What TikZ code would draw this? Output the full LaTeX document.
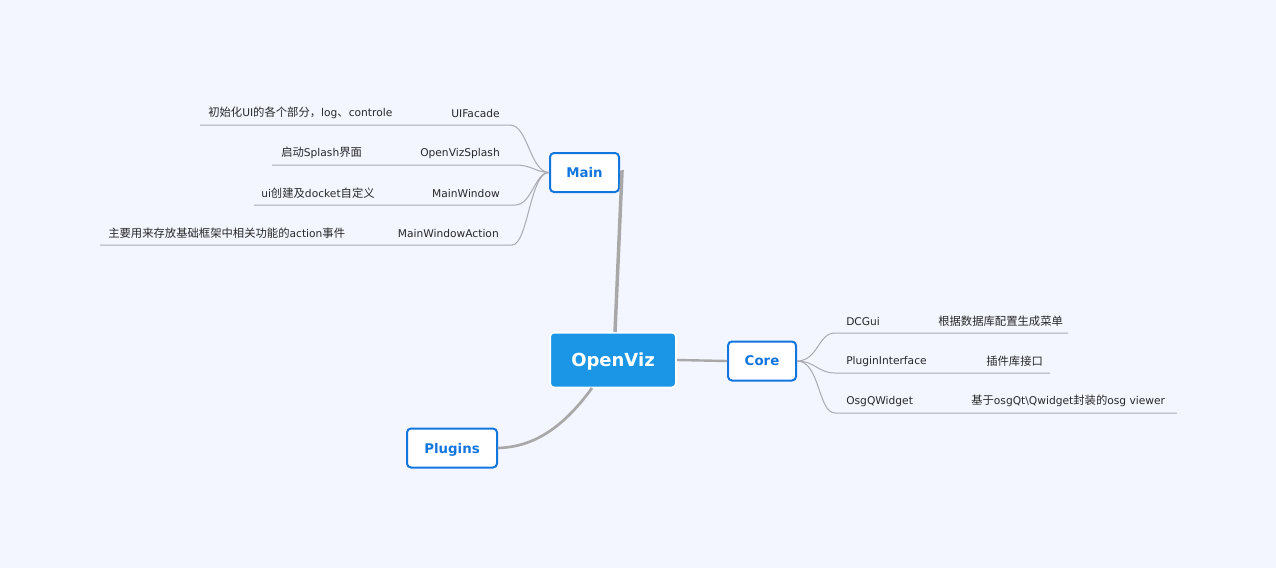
\documentclass[tikz,border=0pt]{standalone}
\usepackage{fontspec}
\setmainfont{DejaVu Sans}
\newfontfamily\cjk{Noto Sans CJK SC}
\newcommand{\zhs}[1]{{\fontsize{8.5}{10}\selectfont\cjk #1}}
\definecolor{bg}{RGB}{243,246,254}
\definecolor{boxblue}{RGB}{18,118,222}
\definecolor{rootfill}{RGB}{27,150,230}
\definecolor{linegray}{RGB}{168,168,168}
\definecolor{thingray}{RGB}{170,170,176}
\definecolor{txt}{RGB}{40,40,40}
\begin{document}
\begin{tikzpicture}[x=0.75pt,y=-0.75pt,
  root/.style={draw=white,line width=1.5pt,fill=rootfill,rounded corners=3pt,text=white,font=\fontsize{13.5}{16}\selectfont\bfseries,minimum width=126*0.75pt,minimum height=55*0.75pt,inner sep=0pt,text depth=0pt},
  topic/.style={draw=boxblue,line width=1.5pt,fill=white,rounded corners=3pt,text=boxblue,font=\fontsize{10}{12}\selectfont\bfseries,minimum height=39*0.75pt,inner sep=0pt,text depth=0pt},
  lbl/.style={inner sep=0pt,text=txt,font=\fontsize{8}{10}\selectfont},
  clbl/.style={inner sep=0pt,text=txt,font=\fontsize{8}{10}\selectfont},
  thin/.style={draw=thingray,line width=0.75pt},
  thick/.style={draw=linegray,line width=2.2pt}]
\fill[bg] (0,0) rectangle (1276,568);
\useasboundingbox (0,0) rectangle (1276,568);

% main nodes
\node[root] (openviz) at (613,360) {OpenViz};
\node[topic,minimum width=69*0.75pt] (main) at (584.5,172.5) {Main};
\node[topic,minimum width=68*0.75pt] (core) at (762,361) {Core};
\node[topic,minimum width=90*0.75pt] (plugins) at (452,448) {Plugins};

% root connectors
\coordinate (mtop) at (615,332);
\coordinate (mbend) at (622,172);
\draw[thick,line width=2.6pt] (mtop) -- (mbend) -- (main.east);
\draw[thick,line width=1.8pt] (openviz.east) -- (core.west);
\coordinate (pstart) at (592,388);
\draw[thick,line width=2pt] (pstart) .. controls (560,432) and (530,447) .. (plugins.east);

% Main children
\node[lbl,anchor=east] (uif) at (500,114) {UIFacade};
\node[clbl,anchor=west] (uifd) at (208,113) {\zhs{初始化}UI\zhs{的各个部分，}log\zhs{、}controle};
\coordinate (l1a) at (200,125); \coordinate (l1b) at (510,125);
\node[lbl,anchor=east] (ovs) at (500,154) {OpenVizSplash};
\node[clbl,anchor=west] (ovsd) at (281,153) {\zhs{启动}Splash\zhs{界面}};
\coordinate (l2a) at (272,165); \coordinate (l2b) at (515,165);
\node[lbl,anchor=east] (mw) at (500,194) {MainWindow};
\node[clbl,anchor=west] (mwd) at (261,193) {ui\zhs{创建及}docket\zhs{自定义}};
\coordinate (l3a) at (254,205); \coordinate (l3b) at (515,205);
\node[lbl,anchor=east] (mwa) at (499,234) {MainWindowAction};
\node[clbl,anchor=west] (mwad) at (108,233) {\zhs{主要用来存放基础框架中相关功能的}action\zhs{事件}};
\coordinate (l4a) at (100,245); \coordinate (l4b) at (512,245);
\draw[thin] (l1a) -- (l1b) .. controls (528,125) and (530,172) .. (main.west);
\draw[thin] (l2a) -- (l2b) .. controls (532,165) and (535,172) .. (main.west);
\draw[thin] (l3a) -- (l3b) .. controls (532,205) and (535,172) .. (main.west);
\draw[thin] (l4a) -- (l4b) .. controls (528,245) and (530,172) .. (main.west);

% Core children
\node[lbl,anchor=west] (dcg) at (846,322) {DCGui};
\node[clbl,anchor=west] (dcgd) at (938,321) {\zhs{根据数据库配置生成菜单}};
\coordinate (c1a) at (835,333); \coordinate (c1b) at (1068,333);
\node[lbl,anchor=west] (pif) at (846,362) {PluginInterface};
\node[clbl,anchor=west] (pifd) at (986,361) {\zhs{插件库接口}};
\coordinate (c2a) at (835,373); \coordinate (c2b) at (1050,373);
\node[lbl,anchor=west] (oqw) at (846,402) {OsgQWidget};
\node[clbl,anchor=west] (oqwd) at (971,401) {\zhs{基于}osgQt\textbackslash Qwidget\zhs{封装的}osg viewer};
\coordinate (c3a) at (835,413); \coordinate (c3b) at (1177,413);
\draw[thin] (core.east) .. controls (818,361) and (818,333) .. (c1a) -- (c1b);
\draw[thin] (core.east) .. controls (815,361) and (818,373) .. (c2a) -- (c2b);
\draw[thin] (core.east) .. controls (820,361) and (818,413) .. (c3a) -- (c3b);
\end{tikzpicture}
\end{document}
